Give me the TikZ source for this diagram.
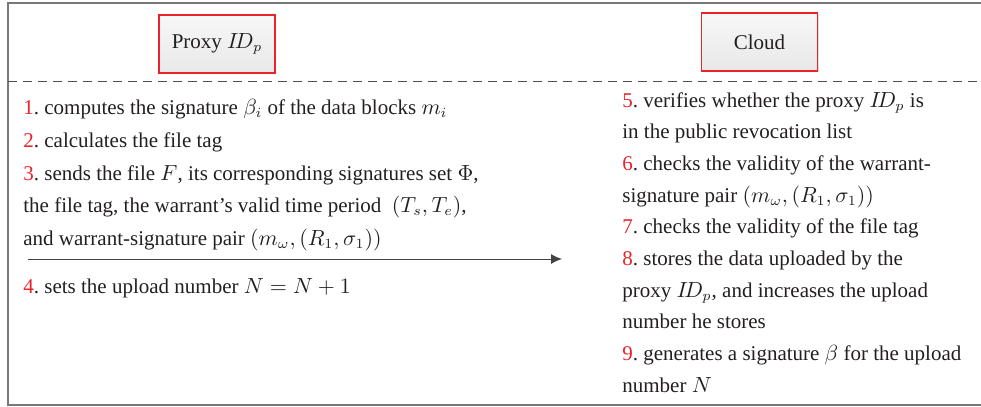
\documentclass[tikz,border=0pt]{standalone}
\usepackage{amsmath,amssymb}
\usepackage{fontspec}
\setmainfont{Liberation Serif}
\usetikzlibrary{arrows.meta,shadows}
\frenchspacing

\definecolor{stepRed}{RGB}{232,35,42}
\definecolor{inkGray}{RGB}{35,31,32}
\definecolor{frameGray}{RGB}{120,120,120}

\tikzset{
  party/.style={draw=stepRed, line width=0.6pt, top color=white!97!black,
    bottom color=white!91!black, minimum width=58pt, minimum height=29pt,
    drop shadow={shadow xshift=0.6pt, shadow yshift=-0.6pt, opacity=0.25},
    text=inkGray},
  % base anchor of a multi-line node sits on its last line
  stepleft/.style={anchor=base west, align=left, inner sep=0pt, text=inkGray,
    font=\fontsize{10.5}{16.3}\selectfont},
  stepright/.style={anchor=base west, align=left, inner sep=0pt, text=inkGray,
    font=\fontsize{10.5}{15.85}\selectfont},
  msg/.style={draw=inkGray!85, line width=0.5pt, -{Latex[length=5.5pt,width=5pt]}}
}
\newcommand{\stepno}[1]{\textcolor{stepRed}{#1}.}

\begin{document}
\begin{tikzpicture}[x=0.5pt, y=-0.5pt, font=\fontsize{10.5}{16}\selectfont]
    \useasboundingbox (0,0) rectangle (981,407);
    % ==== frame and separator ====
    \draw[frameGray, line width=1pt] (981,3) -- (8,3) -- (8,405) -- (981,405);
    \draw[inkGray!80, line width=0.5pt, dash pattern=on 4.5pt off 3pt] (8,81) -- (981,81);
    % ==== the two parties ====
    \node[party] (proxy) at (217,44) {Proxy $I\!D_p$};
    \node[party] (cloud) at (759.5,42) {Cloud};
    % ==== proxy side ====
    \node[stepleft] (s1) at (23,114)
      {\stepno{1} computes the signature $\beta_i$ of the data blocks $m_i$};
    \node[stepleft] (s2) at (23,147)
      {\stepno{2} calculates the file tag};
    \node[stepleft] (s3) at (23,245.2)
      {\stepno{3} sends the file $F$, its corresponding signatures set $\Phi$,\\
       the file tag, the warrant's valid time period \ $(T_s, T_e)$,\\
       and warrant-signature pair $(m_\omega, (R_1, \sigma_1))$};
    \coordinate (send) at (28,259);
    \coordinate (recv) at (562,259);
    \draw[msg] (send) -- (recv);
    \node[stepleft] (s4) at (23,293)
      {\stepno{4} sets the upload number $N = N + 1$};
    % ==== cloud side ====
    \node[stepright] (c5) at (622,138.7)
      {\stepno{5} verifies whether the proxy $I\!D_p$ is\\
       in the public revocation list};
    \node[stepright] (c6) at (622,202.1)
      {\stepno{6} checks the validity of the warrant-\\
       signature pair $(m_\omega, (R_1, \sigma_1))$};
    \node[stepright] (c7) at (622,233.8)
      {\stepno{7} checks the validity of the file tag};
    \node[stepright] (c8) at (622,328.9)
      {\stepno{8} stores the data uploaded by the\\
       proxy $I\!D_p$, and increases the upload\\
       number he stores};
    \node[stepright] (c9) at (622,392.3)
      {\stepno{9} generates a signature $\beta$ for the upload\\
       number $N$};
\end{tikzpicture}
\end{document}
